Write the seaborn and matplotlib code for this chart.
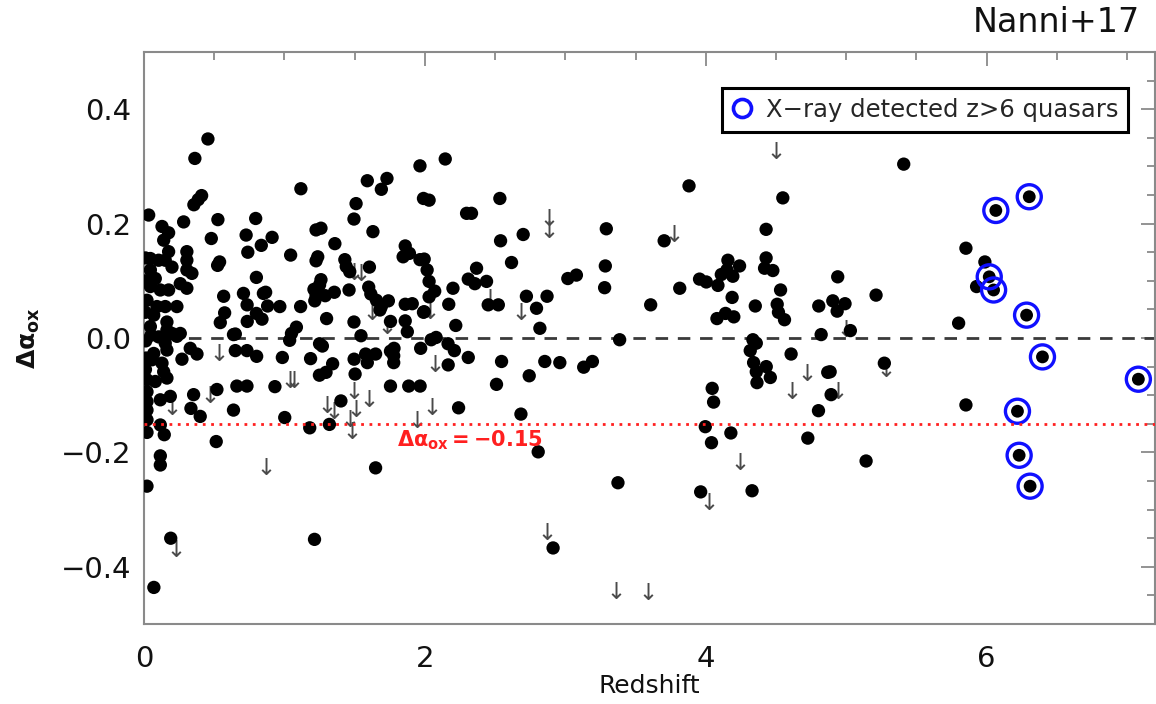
import matplotlib
matplotlib.use("Agg")
import matplotlib.pyplot as plt
import seaborn as sns
import pandas as pd
from matplotlib.lines import Line2D
from matplotlib.ticker import MultipleLocator

# --- X-ray detected quasars: redshift and Delta alpha_ox -------------------
z_det = [
    0.033, 0.128, 0.175, 0.14, 0.282, 0.045, 0.104, 0.151, 0.199, 0.045,
    0.08, 0.045, 0.116, 0.175, 0.021, 0.092, 0.151, 0.234, 0.045, 0.104,
    0.163, 0.199, 0.258, 0.305, 0.305, 0.305, 0.341, 0.258, 0.305, 0.175,
    0.069, 0.163, 0.010, 0.010, 0.010, 0.012, 0.015, 0.010, 0.05, 0.151,
    0.234, 0.151, 0.069, 0.057, 0.163, 0.27, 0.329, 0.377, 0.128, 0.14,
    0.163, 0.021, 0.08, 0.021, 0.116, 0.187, 0.021, 0.021, 0.021, 0.353,
    0.334, 0.4, 0.519, 0.637, 0.116, 0.144, 0.021, 0.514, 0.116, 0.116,
    0.021, 0.65, 0.65, 0.733, 0.661, 0.733, 0.19, 0.07,
    0.455, 0.362, 0.41, 0.386, 0.355, 0.526, 0.479, 0.795, 0.727, 0.835,
    0.912, 0.739, 0.538, 0.524, 1.044, 1.117, 1.225, 1.26, 1.359, 1.237,
    1.225, 1.59, 1.69, 1.73, 1.51, 1.495, 1.63, 1.43, 1.44, 1.465,
    1.605, 1.965, 1.99, 2.03, 2.145, 1.86, 1.845, 1.89, 1.965, 1.995,
    2.016, 2.03, 2.07, 2.03, 2.20, 2.17, 2.22, 1.99, 1.60, 1.615,
    1.655, 1.69, 1.74, 1.68, 1.86, 1.91, 1.995, 1.86, 1.875, 1.755,
    1.495, 1.545, 1.78, 2.045, 2.08, 2.165, 1.97, 1.30, 1.21, 1.25,
    1.225, 1.216, 1.29, 1.355, 1.26, 1.46, 1.115, 0.967, 0.88, 0.85,
    0.866, 0.80, 0.734, 0.708, 0.80, 0.84, 0.735, 0.543, 0.574, 0.567,
    0.637, 1.05, 1.037, 1.085, 1.25, 1.27,
    0.802, 0.932, 0.985, 1.002, 1.18, 1.186, 1.249, 1.296, 1.343, 1.214,
    1.32, 1.402, 1.496, 1.503, 1.578, 1.59, 1.649, 1.755, 1.778, 1.778,
    1.755, 1.885, 1.966, 2.166, 1.649, 2.24, 2.21,
    2.534, 2.297, 2.332, 2.539, 2.700, 2.617, 2.368, 2.309, 2.356, 2.439,
    2.451, 2.523, 2.723, 2.795, 2.870, 2.819, 3.018, 3.079, 3.292, 3.285,
    3.280, 3.387, 3.608, 3.704, 3.815, 3.881, 3.956, 4.004, 4.087, 4.158,
    4.111, 4.193, 4.151, 4.188, 4.080, 4.141, 4.200,
    2.309, 2.546, 2.510, 2.743, 2.854, 2.961, 3.131, 3.193, 2.684, 2.807,
    3.375, 2.913, 4.046, 4.056, 3.997, 4.041, 4.179, 3.964,
    5.41, 4.549, 4.43, 4.43, 4.419, 4.478, 4.241, 4.533, 4.353, 4.509,
    4.518, 4.561, 4.805, 4.905, 4.936, 4.992, 4.94, 5.213, 4.822, 5.03,
    4.336, 4.36, 5.853, 5.988, 5.929, 5.801, 4.317, 4.341, 4.36, 4.365,
    4.431, 4.46, 4.608, 4.869, 4.886, 4.893, 4.803, 4.727, 5.142, 5.272,
    4.33, 5.853,
]
dalpha_det = [
    0.215, 0.195, 0.184, 0.171, 0.203, 0.139, 0.136, 0.136, 0.124, 0.119,
    0.104, 0.090, 0.084, 0.084, 0.066, 0.055, 0.055, 0.055, 0.020, 0.002,
    0.014, 0.008, 0.008, 0.151, 0.136, 0.119, 0.113, 0.095, 0.087, 0.151,
    0.040, 0.028, 0.140, 0.100, 0.045, -0.005, -0.035, -0.055, 0.005, 0.000,
    0.003, -0.009, -0.027, -0.038, -0.021, -0.037, -0.018, -0.028, -0.044, -0.059,
    -0.070, -0.073, -0.076, -0.094, -0.108, -0.102, -0.111, -0.126, -0.143, -0.099,
    -0.123, -0.137, -0.090, -0.126, -0.152, -0.169, -0.165, -0.181, -0.206, -0.222,
    -0.259, 0.007, -0.022, -0.022, -0.084, -0.084, -0.350, -0.436,
    0.348, 0.314, 0.249, 0.242, 0.233, 0.207, 0.174, 0.209, 0.180, 0.162,
    0.176, 0.150, 0.133, 0.127, 0.145, 0.261, 0.189, 0.192, 0.165, 0.142,
    0.135, 0.275, 0.260, 0.279, 0.235, 0.208, 0.186, 0.137, 0.125, 0.116,
    0.124, 0.301, 0.244, 0.241, 0.313, 0.161, 0.142, 0.148, 0.137, 0.138,
    0.119, 0.099, 0.082, 0.072, 0.087, 0.059, 0.022, 0.045, 0.089, 0.077,
    0.066, 0.055, 0.065, 0.049, 0.059, 0.060, 0.046, 0.030, 0.011, 0.029,
    0.028, 0.004, -0.018, -0.003, 0.001, -0.010, -0.018, 0.034, 0.085, 0.093,
    0.074, 0.065, 0.074, 0.080, 0.102, 0.084, 0.055, 0.055, 0.056, 0.078,
    0.080, 0.106, 0.058, 0.078, 0.043, 0.033, 0.029, 0.027, 0.044, 0.073,
    0.006, 0.008, -0.004, 0.019, -0.010, -0.014,
    -0.032, -0.085, -0.034, -0.139, -0.157, -0.036, -0.065, -0.060, -0.045, -0.352,
    -0.151, -0.110, -0.037, -0.063, -0.028, -0.043, -0.028, -0.023, -0.031, -0.043,
    -0.084, -0.084, -0.084, -0.047, -0.227, -0.122, -0.022,
    0.244, 0.218, 0.218, 0.170, 0.181, 0.132, 0.122, 0.103, 0.095, 0.099,
    0.058, 0.058, 0.073, 0.052, 0.073, 0.017, 0.104, 0.110, 0.191, 0.126,
    0.088, -0.003, 0.058, 0.170, 0.087, 0.266, 0.103, 0.098, 0.092, 0.136,
    0.111, 0.108, 0.119, 0.071, 0.034, 0.043, 0.037,
    -0.034, -0.041, -0.081, -0.066, -0.041, -0.043, -0.051, -0.041, -0.133, -0.199,
    -0.253, -0.367, -0.088, -0.112, -0.155, -0.183, -0.166, -0.269,
    0.304, 0.245, 0.190, 0.140, 0.122, 0.118, 0.126, 0.084, 0.056, 0.059,
    0.045, 0.032, 0.056, 0.065, 0.047, 0.060, 0.107, 0.075, 0.006, 0.013,
    -0.003, -0.009, 0.157, 0.133, 0.090, 0.026, -0.022, -0.043, -0.059, -0.078,
    -0.050, -0.069, -0.028, -0.060, -0.059, -0.099, -0.127, -0.175, -0.215, -0.044,
    -0.267, -0.117,
]

# --- X-ray undetected quasars (upper limits) -------------------------------
z_lim = [
    1.496, 1.545, 1.62, 1.73, 2.04, 0.532, 0.202, 0.473, 1.037, 1.066,
    1.303, 1.35, 1.496, 1.513, 1.602, 1.466, 1.484, 0.868, 0.23, 2.049,
    1.943, 2.072, 2.884, 2.884, 2.464, 2.681, 3.773, 2.870, 3.364, 3.590,
    4.022, 4.246, 4.502, 5.0, 4.722, 4.615, 4.945, 5.284,
]
dalpha_lim = [
    0.118, 0.116, 0.048, 0.022, 0.049, -0.025, -0.119, -0.098, -0.072, -0.071,
    -0.116, -0.125, -0.090, -0.123, -0.104, -0.139, -0.160, -0.224, -0.367, -0.119,
    -0.141, -0.043, 0.212, 0.191, 0.072, 0.048, 0.184, -0.338, -0.440, -0.443,
    -0.285, -0.215, 0.328, 0.017, -0.059, -0.091, -0.091, -0.053,
]

# --- X-ray detected z>6 quasars ----------------------------------------------
z_hiz = [6.066, 6.304, 6.019, 6.05, 6.285, 6.398, 6.22, 6.232, 6.31, 7.081]
dalpha_hiz = [0.223, 0.247, 0.107, 0.084, 0.040, -0.033, -0.128, -0.205, -0.259, -0.072]

x_ticks = [0, 2, 4, 6]
y_ticks = [-0.4, -0.2, 0.0, 0.2, 0.4]
y_ticklabels = ["\u22120.4", "\u22120.2", "0.0", "0.2", "0.4"]
cut_value = -0.15
cut_label = r"$\mathbf{\Delta\alpha_{ox}=-0.15}$"
legend_label = "X\u2212ray detected z>6 quasars"

det = pd.DataFrame({"z": z_det, "dalpha": dalpha_det})
lim = pd.DataFrame({"z": z_lim, "dalpha": dalpha_lim})
hiz = pd.DataFrame({"z": z_hiz, "dalpha": dalpha_hiz})

sns.set_theme(style="white")
plt.rcParams["font.family"] = ["DejaVu Sans"]
plt.rcParams["mathtext.fontset"] = "dejavusans"

fig = plt.figure(figsize=(11.56, 7.04), dpi=100)
ax = fig.add_axes([0.1246, 0.1136, 0.8746, 0.8125])

# reference lines
ax.axhline(0.0, color="#3a3a3a", lw=2.0, ls=(0, (4.5, 3.5)), zorder=1)
ax.axhline(cut_value, color="#ff2020", lw=2.0, ls=(0, (1, 2)), zorder=6)

sns.scatterplot(data=det, x="z", y="dalpha", color="black", s=92,
                edgecolor="none", ax=ax, legend=False, zorder=3)
sns.scatterplot(data=lim, x="z", y="dalpha", color="#4a4a4a", s=150,
                marker=r"$\downarrow$", linewidth=0, ax=ax, legend=False,
                zorder=2)
sns.scatterplot(data=hiz, x="z", y="dalpha", color="black", s=85,
                edgecolor="none", ax=ax, legend=False, zorder=3)
sns.scatterplot(data=hiz, x="z", y="dalpha", s=300, facecolor="none",
                edgecolor="#1010ff", linewidth=2.4, ax=ax, legend=False,
                zorder=4)

ax.text(1.80, -0.178, cut_label, color="#ff2020", fontsize=15,
        ha="left", va="center", zorder=7)

ax.set_xlim(0, 7.2)
ax.set_ylim(-0.5, 0.5)
ax.set_xticks(x_ticks)
ax.set_yticks(y_ticks)
ax.set_yticklabels(y_ticklabels)
ax.xaxis.set_minor_locator(MultipleLocator(0.5))
ax.yaxis.set_minor_locator(MultipleLocator(0.05))
ax.tick_params(which="both", direction="in", top=True, right=True,
               color="#8a8a8a", width=1.3, labelsize=21, labelcolor="#111111")
ax.tick_params(which="major", length=10)
ax.tick_params(which="minor", length=6)
ax.tick_params(axis="x", which="both", pad=15)
ax.tick_params(axis="y", which="both", pad=9)
for sp in ax.spines.values():
    sp.set_color("#8a8a8a")
    sp.set_linewidth(1.5)

ax.set_xlabel("Redshift", fontsize=18, color="#111111", labelpad=1)
ax.set_ylabel(r"$\mathbf{\Delta\alpha_{ox}}$", fontsize=18, color="#111111",
              labelpad=14)

handle = Line2D([], [], ls="none", marker="o", mfc="none", mec="#1010ff",
                mew=2.6, ms=13)
leg = ax.legend([handle], [legend_label], loc="upper right",
                bbox_to_anchor=(0.973, 0.937), borderaxespad=0,
                fontsize=17.5, frameon=True, fancybox=False, framealpha=1,
                handlelength=0.9, handletextpad=0.5, borderpad=0.4)
leg.get_frame().set_edgecolor("black")
leg.get_frame().set_linewidth(2.2)
leg.set_zorder(10)

fig.text(0.986, 0.9545, "Nanni+17", fontsize=24, ha="right", va="baseline",
         color="#111111")

fig.savefig("out.png", dpi=100)
